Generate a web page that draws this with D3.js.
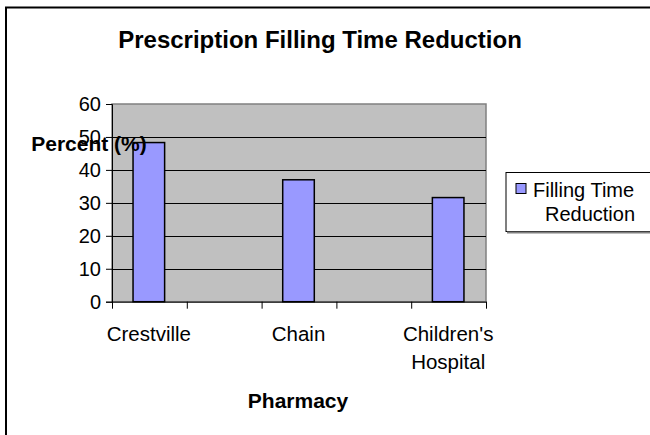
<!DOCTYPE html>
<html lang="en">
  <head>
    <meta charset="UTF-8">
    <script src="https://d3js.org/d3.v7.min.js"></script>
    <style>
      body { margin: 0; background: #fff; }
      svg { display: block; font-family: "Liberation Sans", Arial, sans-serif; }
    </style>
  </head>
  <body>
    <div id="chart"></div>
    <script>
      // data
      const categories = ["Crestville", "Chain", "Children's Hospital"];
      const values = [48.3, 37.0, 31.6];
      const yTicks = [0, 10, 20, 30, 40, 50, 60];
      const seriesName = "Filling Time Reduction";

      const W = 650, H = 435;
      // plot area
      const plot = { left: 112, right: 486, top: 104, bottom: 301.7 };

      const svg = d3.select("#chart")
        .append("svg")
        .attr("width", W)
        .attr("height", H);

      // outer frame (cut off on the right and bottom)
      svg.append("rect")
        .attr("x", 6).attr("y", 7.5)
        .attr("width", 700).attr("height", 500)
        .attr("fill", "#fff")
        .attr("stroke", "#000")
        .attr("stroke-width", 2);

      // scales
      const y = d3.scaleLinear()
        .domain([0, 60])
        .range([plot.bottom, plot.top]);

      const x = d3.scaleBand()
        .domain(categories)
        .range([74, 523])
        .padding(0);

      const xTicks = d3.scaleLinear()
        .domain([0, 5])
        .range([plot.left, plot.right]);

      // plot background
      svg.append("rect")
        .attr("x", plot.left).attr("y", plot.top)
        .attr("width", plot.right - plot.left)
        .attr("height", plot.bottom - plot.top)
        .attr("fill", "#c0c0c0")
        .attr("stroke", "#808080")
        .attr("stroke-width", 1.5);

      // gridlines
      svg.append("g")
        .selectAll("line")
        .data(yTicks.filter(d => d > 0 && d < 60))
        .join("line")
        .attr("x1", plot.left).attr("x2", plot.right)
        .attr("y1", d => Math.round(y(d)) + 0.5)
        .attr("y2", d => Math.round(y(d)) + 0.5)
        .attr("stroke", "#000")
        .attr("stroke-width", 1);

      // bars
      const barW = x.bandwidth() * 0.211;
      svg.append("g")
        .selectAll("rect")
        .data(values)
        .join("rect")
        .attr("x", (d, i) => x(categories[i]) + x.bandwidth() / 2 - barW / 2)
        .attr("y", d => y(d))
        .attr("width", barW)
        .attr("height", d => y(0) - y(d))
        .attr("fill", "#9999ff")
        .attr("stroke", "#000")
        .attr("stroke-width", 1.5);

      // y axis
      const yAxis = svg.append("g")
        .attr("transform", `translate(${plot.left},0)`)
        .call(d3.axisLeft(y).tickValues(yTicks).tickSize(6).tickPadding(5));
      yAxis.selectAll("text")
        .style("font-size", "20px")
        .attr("fill", "#000");
      yAxis.selectAll("line, path").attr("stroke", "#000");

      // x axis
      const xAxis = svg.append("g")
        .attr("transform", `translate(0,${plot.bottom})`)
        .call(d3.axisBottom(xTicks).tickValues(d3.range(6)).tickFormat("").tickSize(7).tickSizeOuter(0));
      xAxis.selectAll("line, path").attr("stroke", "#000");

      // category labels (wrapped on spaces for the long one)
      svg.append("g")
        .selectAll("text")
        .data(categories)
        .join("text")
        .attr("x", d => x(d) + x.bandwidth() / 2)
        .attr("y", 340.5)
        .attr("text-anchor", "middle")
        .style("font-size", "20.5px")
        .each(function (d) {
          const parts = d === "Children's Hospital" ? ["Children's", "Hospital"] : [d];
          d3.select(this).selectAll("tspan")
            .data(parts)
            .join("tspan")
            .attr("x", x(d) + x.bandwidth() / 2)
            .attr("dy", (p, i) => i === 0 ? 0 : 28)
            .text(p => p);
        });

      // title
      svg.append("text")
        .attr("x", 320)
        .attr("y", 47.5)
        .attr("text-anchor", "middle")
        .style("font-size", "24px")
        .style("font-weight", "bold")
        .text("Prescription Filling Time Reduction");

      // axis titles
      svg.append("text")
        .attr("x", 298)
        .attr("y", 408)
        .attr("text-anchor", "middle")
        .style("font-size", "21px")
        .style("font-weight", "bold")
        .text("Pharmacy");

      svg.append("text")
        .attr("x", 89)
        .attr("y", 151)
        .attr("text-anchor", "middle")
        .style("font-size", "21px")
        .style("font-weight", "bold")
        .text("Percent (%)");

      // legend
      const legend = svg.append("g");
      legend.append("rect")
        .attr("x", 506).attr("y", 172.5)
        .attr("width", 200).attr("height", 59)
        .attr("fill", "#fff")
        .attr("stroke", "#000")
        .attr("stroke-width", 1);
      legend.append("line")
        .attr("x1", 507).attr("x2", 700)
        .attr("y1", 232.5).attr("y2", 232.5)
        .attr("stroke", "#808080")
        .attr("stroke-width", 2);
      legend.append("rect")
        .attr("x", 516).attr("y", 183.5)
        .attr("width", 10).attr("height", 10)
        .attr("fill", "#9999ff")
        .attr("stroke", "#000")
        .attr("stroke-width", 1);
      legend.append("text")
        .attr("x", 533)
        .attr("y", 197)
        .style("font-size", "20px")
        .selectAll("tspan")
        .data(["Filling Time", "Reduction"])
        .join("tspan")
        .attr("x", (d, i) => i === 0 ? 533 : 545)
        .attr("dy", (d, i) => i === 0 ? 0 : 24)
        .text(d => d);
    </script>
  </body>
</html>
